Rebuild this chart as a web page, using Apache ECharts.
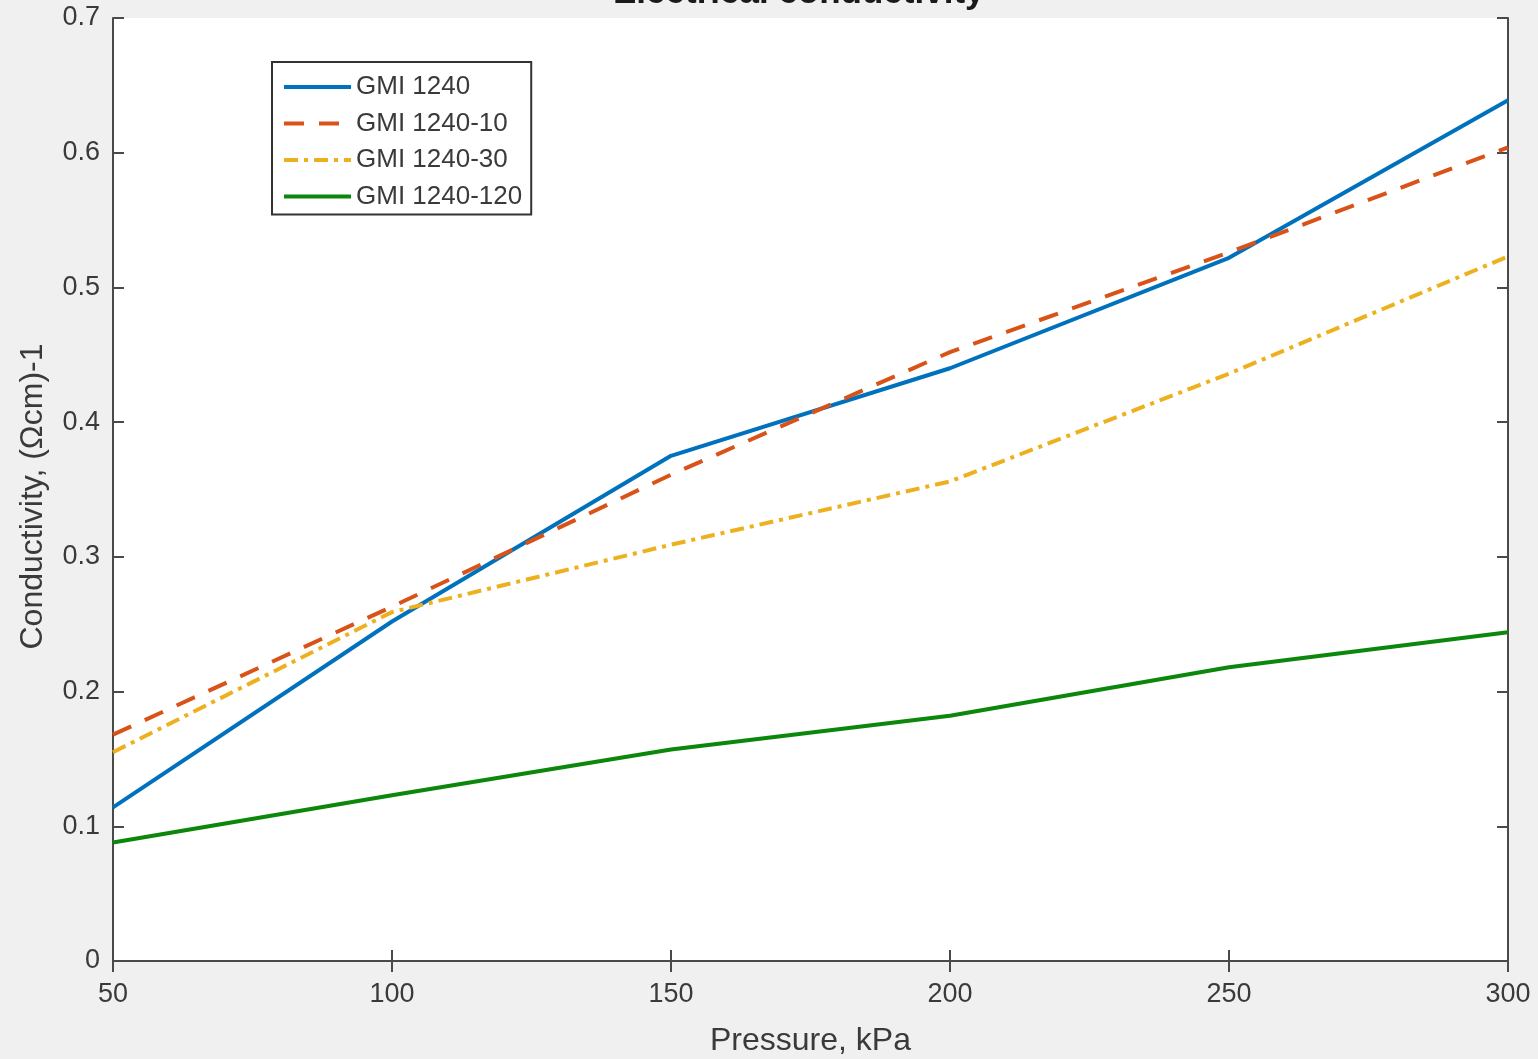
<!DOCTYPE html>
<html>
<head>
<meta charset="utf-8">
<script src="https://cdn.jsdelivr.net/npm/echarts@6/dist/echarts.min.js"></script>
<style>
html,body{margin:0;padding:0;background:#f0f0f0;}
#chart{width:1538px;height:1059px;}
</style>
</head>
<body>
<div id="chart"></div>
<script>
const pressure = [50, 100, 150, 200, 250, 300];
const gmi1240 = [0.114, 0.252, 0.375, 0.440, 0.522, 0.639];
const gmi1240_10 = [0.168, 0.263, 0.361, 0.452, 0.526, 0.604];
const gmi1240_30 = [0.155, 0.259, 0.309, 0.356, 0.436, 0.523];
const gmi1240_120 = [0.088, 0.123, 0.157, 0.182, 0.218, 0.244];
const seriesNames = ['GMI 1240', 'GMI 1240-10', 'GMI 1240-30', 'GMI 1240-120'];
const yTicks = ['0', '0.1', '0.2', '0.3', '0.4', '0.5', '0.6', '0.7'];

const FONT = '"Liberation Sans", Arial, sans-serif';
const AX = '#4a4a4a';
const TXT = '#3a3a3a';

function pairs(arr){ return pressure.map((p,i)=>[p, arr[i]]); }

const chart = echarts.init(document.getElementById('chart'));
const tickCommon = {inside:true, length:11, lineStyle:{color:AX, width:2}};
chart.setOption({
  backgroundColor:'#f0f0f0',
  animation:false,
  title:{
    text:'Electrical conductivity',
    left:608, top:-29,
    textStyle:{fontFamily:FONT, fontSize:35, fontWeight:'bold', color:'#1a1a1a'}
  },
  grid:{left:113, right:30, top:18, bottom:98, show:true, backgroundColor:'#ffffff', borderWidth:0,
    outerBoundsMode:'none', containLabel:false},
  legend:{
    left:272, top:62, orient:'vertical',
    data:seriesNames,
    backgroundColor:'#ffffff', borderColor:'#333333', borderWidth:2,
    padding:[12,9,5,10], itemWidth:67, itemHeight:14, itemGap:10.5,
    itemStyle:{opacity:0},
    lineStyle:{width:4},
    textStyle:{fontFamily:FONT, fontSize:26, color:TXT}
  },
  xAxis:[{
    type:'value', min:50, max:300, interval:50, position:'bottom',
    name:'Pressure, kPa', nameLocation:'middle', nameGap:64,
    nameTextStyle:{fontFamily:FONT, fontSize:32, color:TXT},
    axisLine:{show:true, lineStyle:{color:AX, width:2}},
    axisTick:tickCommon,
    axisLabel:{fontFamily:FONT, fontSize:27, color:TXT, margin:20},
    splitLine:{show:false}
  },{
    type:'value', min:50, max:300, interval:50, position:'top',
    axisLine:{show:true, lineStyle:{color:AX, width:2}},
    axisTick:tickCommon, axisLabel:{show:false}, splitLine:{show:false}
  }],
  yAxis:[{
    type:'value', min:0, max:0.7, interval:0.1, position:'left',
    name:'Conductivity, (Ωcm)-1', nameLocation:'middle', nameGap:64,
    nameTextStyle:{fontFamily:FONT, fontSize:32, color:TXT, padding:[0,14,0,0]},
    axisLine:{show:true, lineStyle:{color:AX, width:2}},
    axisTick:tickCommon,
    axisLabel:{fontFamily:FONT, fontSize:27, color:TXT, margin:13, padding:[4,0,0,0],
      formatter:(v)=>yTicks[Math.round(v*10)]},
    splitLine:{show:false}
  },{
    type:'value', min:0, max:0.7, interval:0.1, position:'right',
    axisLine:{show:true, lineStyle:{color:AX, width:2}},
    axisTick:tickCommon, axisLabel:{show:false}, splitLine:{show:false}
  }],
  series:[
    {name:seriesNames[0], type:'line', data:pairs(gmi1240), symbol:'none',
      lineStyle:{color:'#0072BD', width:4}, itemStyle:{color:'#0072BD'}},
    {name:seriesNames[1], type:'line', data:pairs(gmi1240_10), symbol:'none',
      lineStyle:{color:'#D95319', width:4, type:[20,15]}, itemStyle:{color:'#D95319'}},
    {name:seriesNames[2], type:'line', data:pairs(gmi1240_30), symbol:'none',
      lineStyle:{color:'#EDB120', width:4, type:[14,6,4,6]}, itemStyle:{color:'#EDB120'}},
    {name:seriesNames[3], type:'line', data:pairs(gmi1240_120), symbol:'none',
      lineStyle:{color:'#0b870b', width:4}, itemStyle:{color:'#0b870b'}}
  ]
});
</script>
</body>
</html>
